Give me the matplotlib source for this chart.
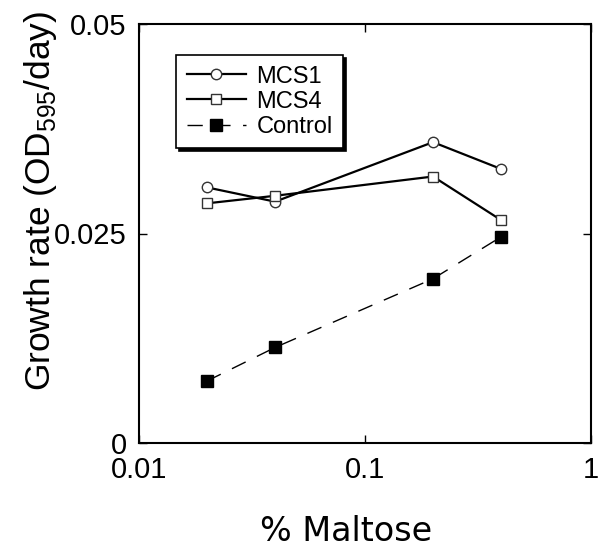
import numpy as np
import matplotlib.pyplot as plt

# data
maltose = [0.02, 0.04, 0.2, 0.4]
mcs1 = [0.0305, 0.0288, 0.0359, 0.0327]
mcs4 = [0.0286, 0.0295, 0.0318, 0.0266]
control = [0.0074, 0.0114, 0.0196, 0.0246]

plt.rcParams['font.family'] = ['Liberation Sans', 'DejaVu Sans']

fig = plt.figure(figsize=(6.02, 5.48), dpi=100)
ax = fig.add_axes([139 / 602, 1 - 443 / 548, 452 / 602, 419 / 548])

ax.plot(maltose, mcs1, color='black', lw=1.6, marker='o', ms=7.5,
        mfc='white', mec='#333333', mew=1, label='MCS1')
ax.plot(maltose, mcs4, color='black', lw=1.6, marker='s', ms=7.5,
        mfc='white', mec='#333333', mew=1, label='MCS4')
ax.plot(maltose, control, color='black', lw=1, ls=(0, (11, 9)), marker='s', ms=8,
        mfc='black', mec='black', label='Control')

ax.set_xscale('log')
ax.set_xlim(0.01, 1)
ax.set_ylim(0, 0.05)
ax.set_xticks([0.01, 0.1, 1])
ax.set_xticklabels(['0.01', '0.1', '1'])
ax.xaxis.set_minor_locator(plt.NullLocator())
ax.set_yticks([0, 0.025, 0.05])
ax.set_yticklabels(['0', '0.025', '0.05'])
ax.tick_params(direction='in', labelsize=21, length=6, width=1, pad=9,
               top=True, right=True)
for s in ax.spines.values():
    s.set_linewidth(1.5)

ax.set_xlabel('% Maltose', fontsize=24, family='DejaVu Sans')
ax.xaxis.set_label_coords(0.458, -0.172)
ax.set_ylabel('Growth rate (OD$_{\\mathregular{595}}$/day)', fontsize=25.5)
ax.yaxis.set_label_coords(-0.178, 0.578)

leg = ax.legend(loc='upper left', bbox_to_anchor=(0.082, 0.926), borderaxespad=0,
                fontsize=17, shadow={'color': 'black', 'alpha': 1}, fancybox=False,
                edgecolor='black', handlelength=2.5, borderpad=0.45,
                labelspacing=0.13, handletextpad=0.45)
leg.get_frame().set_linewidth(1.2)

fig.savefig('out.png', dpi=100)
